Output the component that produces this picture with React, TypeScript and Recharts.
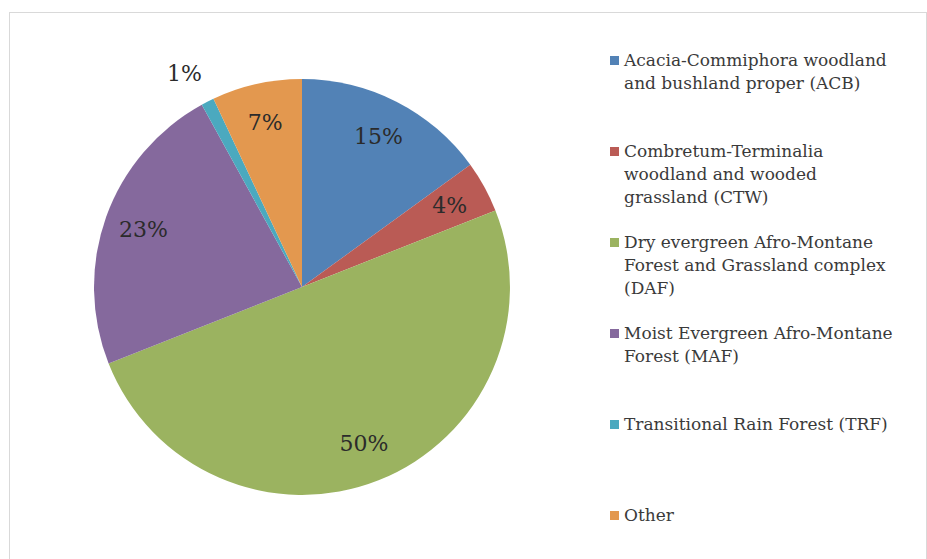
import React from 'react';
import { PieChart, Pie, Cell, Legend } from 'recharts';

const CATEGORIES = [
  'Acacia-Commiphora woodland and bushland proper (ACB)',
  'Combretum-Terminalia woodland and wooded grassland (CTW)',
  'Dry evergreen Afro-Montane Forest and Grassland complex (DAF)',
  'Moist Evergreen Afro-Montane Forest (MAF)',
  'Transitional Rain Forest (TRF)',
  'Other'
];

// legend text as it wraps in the original
const LEGEND_LINES = [
  ['Acacia-Commiphora woodland', 'and bushland proper (ACB)'],
  ['Combretum-Terminalia', 'woodland and wooded', 'grassland (CTW)'],
  ['Dry evergreen Afro-Montane', 'Forest and Grassland complex', '(DAF)'],
  ['Moist Evergreen Afro-Montane', 'Forest (MAF)'],
  ['Transitional Rain Forest (TRF)'],
  ['Other']
];

const SHARES = [15, 4, 50, 23, 1, 7];

const COLORS = ['#5282B6', '#BA5B55', '#9BB360', '#85699D', '#4BA9BF', '#E3984F'];

const data = CATEGORIES.map((name, i) => ({ name, value: SHARES[i] }));

const FONT = '"DejaVu Serif", serif';
const RADIAN = Math.PI / 180;

const renderLabel = (props: any) => {
  const { cx, cy, midAngle, startAngle, outerRadius, value } = props;
  // tiny slices get their label outside the pie, like the original
  const outside = value <= 1;
  const r = outside ? outerRadius + 36 : outerRadius * 0.81;
  const a = outside ? startAngle : midAngle;
  const x = cx + r * Math.cos(-a * RADIAN);
  const y = cy + r * Math.sin(-a * RADIAN);
  return (
    <text
      x={x}
      y={y}
      fill="#2b2b2b"
      textAnchor="middle"
      dominantBaseline="central"
      fontFamily={FONT}
      fontSize={22}
    >
      {`${value}%`}
    </text>
  );
};

const renderLegend = (props: any) => {
  const { payload } = props;
  return (
    <div style={{ fontFamily: FONT, fontSize: 17, color: '#3a3a3a' }}>
      {payload.map((entry: any, index: number) => (
        <div key={`item-${index}`} style={{ height: 91, display: 'flex', alignItems: 'flex-start' }}>
          <div
            style={{
              width: 9,
              height: 9,
              background: COLORS[index],
              marginTop: 7,
              marginRight: 5,
              flexShrink: 0
            }}
          />
          <div style={{ lineHeight: '23px' }}>
            {LEGEND_LINES[index].map((line, j) => (
              <div key={j} style={{ whiteSpace: 'nowrap' }}>{line}</div>
            ))}
          </div>
        </div>
      ))}
    </div>
  );
};

export default function App() {
  return (
    <div
      style={{
        position: 'absolute',
        left: 9,
        top: 12,
        width: 916,
        height: 600,
        border: '1px solid #d9d9d9',
        background: '#fff'
      }}
    >
      <PieChart width={916} height={560}>
        <Pie
          data={data}
          dataKey="value"
          nameKey="name"
          cx={287}
          cy={269}
          outerRadius={208}
          startAngle={90}
          endAngle={-270}
          stroke="none"
          labelLine={false}
          label={renderLabel}
          isAnimationActive={false}
        >
          {data.map((entry, index) => (
            <Cell key={`cell-${index}`} fill={COLORS[index]} />
          ))}
        </Pie>
        <Legend
          layout="vertical"
          verticalAlign="top"
          align="right"
          content={renderLegend}
          wrapperStyle={{ left: 600, top: 36, width: 315 }}
        />
      </PieChart>
    </div>
  );
}
